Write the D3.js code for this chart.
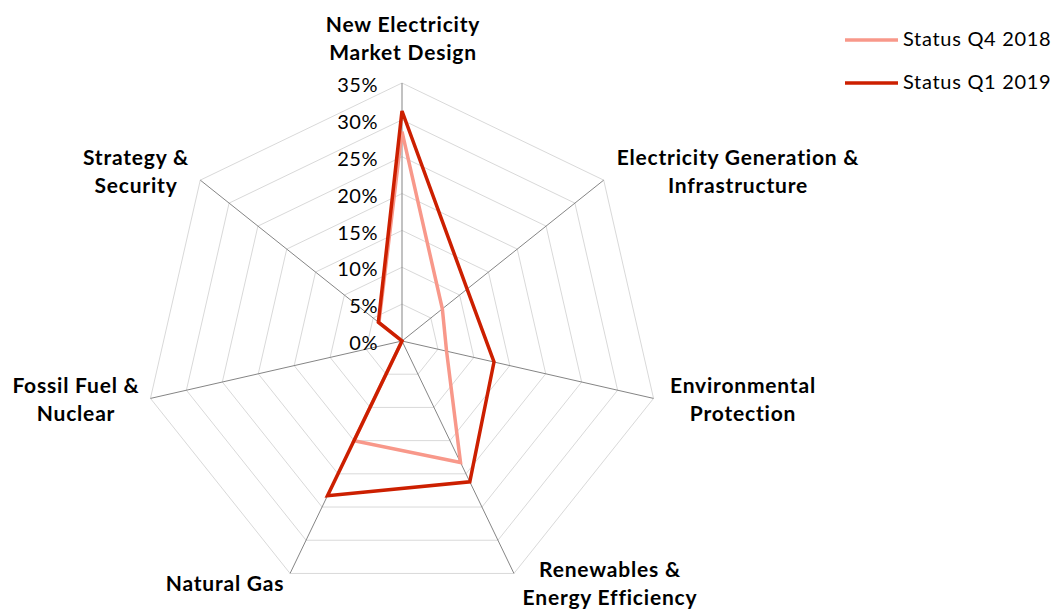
<!DOCTYPE html>
<html>
<head>
<meta charset="utf-8">
<script src="https://cdn.jsdelivr.net/npm/d3@7"></script>
<style>
  body { margin: 0; background: #fff; }
  svg { display: block; font-family: Lato, "Open Sans", sans-serif; }
</style>
</head>
<body>
<div id="chart"></div>
<script>
// Categories (clockwise from top), label lines
const categories = [
    ["New Electricity", "Market Design"],
    ["Electricity Generation &", "Infrastructure"],
    ["Environmental", "Protection"],
    ["Renewables &", "Energy Efficiency"],
    ["Natural Gas"],
    ["Fossil Fuel &", "Nuclear"],
    ["Strategy &", "Security"]
];
const seriesNames = ["Status Q4 2018", "Status Q1 2019"];
const q4_2018 = [0.284, 0.07, 0.062, 0.183, 0.15, 0.0, 0.04];
const q1_2019 = [0.312, 0.113, 0.128, 0.212, 0.233, 0.0, 0.041];
const tickValues = [0, 0.05, 0.10, 0.15, 0.20, 0.25, 0.30, 0.35];

const width = 1057, height = 610;
const cx = 402, cy = 341, R = 258;
const colors = ["#F8988A", "#CC1F00"];

const svg = d3.select("#chart").append("svg")
    .attr("width", width)
    .attr("height", height);

const r = d3.scaleLinear().domain([0, 0.35]).range([0, R]);
const angle = d3.scaleLinear().domain([0, categories.length]).range([0, 2 * Math.PI]);

const g = svg.append("g").attr("transform", `translate(${cx},${cy})`);

// point at category i, value v
function pt(i, v) {
    const a = angle(i);
    return [r(v) * Math.sin(a), -r(v) * Math.cos(a)];
}

// grid rings
g.selectAll(".ring")
    .data(tickValues.slice(1))
    .join("polygon")
    .attr("points", v => categories.map((c, i) => pt(i, v).join(",")).join(" "))
    .attr("fill", "none")
    .attr("stroke", "#d9d9d9")
    .attr("stroke-width", 1);

// spokes
g.selectAll(".spoke")
    .data(categories)
    .join("line")
    .attr("x1", 0).attr("y1", 0)
    .attr("x2", (d, i) => pt(i, 0.35)[0])
    .attr("y2", (d, i) => pt(i, 0.35)[1])
    .attr("stroke", "#858585")
    .attr("stroke-width", 1);

// tick labels
g.selectAll(".tick")
    .data(tickValues)
    .join("text")
    .attr("x", -24)
    .attr("y", d => -r(d) + 4)
    .attr("text-anchor", "end")
    .attr("dominant-baseline", "middle")
    .attr("font-size", 20)
    .attr("letter-spacing", 0.5)
    .attr("fill", "#000")
    .text(d3.format(".0%"));

// category labels
const labelPos = [
    [403, 27], [738, 160], [743, 388], [610, 572], [225, 586], [76, 388], [136, 160]
];
categories.forEach((lines, i) => {
    const t = svg.append("text")
        .attr("text-anchor", "middle")
        .attr("font-size", 21)
        .attr("letter-spacing", 0.8)
        .attr("font-weight", "bold")
        .attr("fill", "#000");
    lines.forEach((ln, j) => {
        t.append("tspan")
            .attr("x", labelPos[i][0])
            .attr("y", labelPos[i][1] + j * 28)
            .attr("dominant-baseline", "middle")
            .text(ln);
    });
});

// series lines
const line = d3.line().curve(d3.curveLinearClosed);
[q4_2018, q1_2019].forEach((vals, s) => {
    g.append("path")
        .attr("d", line(vals.map((v, i) => pt(i, v))))
        .attr("fill", "none")
        .attr("stroke", colors[s])
        .attr("stroke-width", 3.5)
        .attr("stroke-linejoin", "miter");
});

// legend
const legend = svg.append("g").attr("transform", "translate(845,40)");
seriesNames.forEach((name, s) => {
    const row = legend.append("g").attr("transform", `translate(0,${s * 43})`);
    row.append("line")
        .attr("x1", 0).attr("x2", 53)
        .attr("stroke", colors[s])
        .attr("stroke-width", 3.5);
    row.append("text")
        .attr("x", 58)
        .attr("y", 1)
        .attr("dominant-baseline", "middle")
        .attr("font-size", 20)
        .attr("letter-spacing", 0.7)
        .attr("fill", "#000")
        .text(name);
});
</script>
</body>
</html>
